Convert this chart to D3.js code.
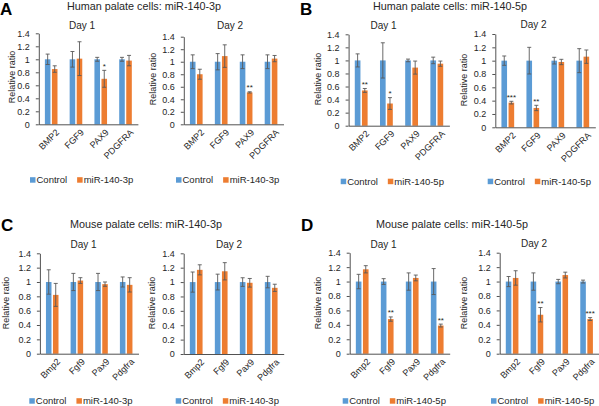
<!DOCTYPE html>
<html><head><meta charset="utf-8">
<script src="https://cdn.jsdelivr.net/npm/d3@7"></script>
<style>
html,body{margin:0;padding:0;background:#fff;}
svg{display:block;font-family:"Liberation Sans",Arial,sans-serif;}
</style></head>
<body>
<svg id="chart" width="599" height="406"></svg>
<script>
// ---------------- DATA ----------------
const humanGenes = ["BMP2", "FGF9", "PAX9", "PDGFRA"];
const mouseGenes = ["Bmp2", "Fgf9", "Pax9", "Pdgfra"];
const yTicks = [0, 0.2, 0.4, 0.6, 0.8, 1, 1.2, 1.4];
const yTickLabels = ["0", "0.2", "0.4", "0.6", "0.8", "1", "1.2", "1.4"];
const seriesNames = ["Control"];
const panelTitles = ["Human palate cells: miR-140-3p", "Human palate cells: miR-140-5p",
                     "Mouse palate cells: miR-140-3p", "Mouse palate cells: miR-140-5p"];
const panelLetters = ["A", "B", "C", "D"];
const dayLabels = ["Day 1", "Day 2"];
const mirNames = ["miR-140-3p", "miR-140-5p", "miR-140-3p", "miR-140-5p"];

// Panel A
const a1Control = [1, 1, 1, 1];
const a1ControlErr = [0.08, 0.12, 0.03, 0.03];
const a1Mir = [0.85, 1.01, 0.70, 0.98];
const a1MirErr = [0.05, 0.26, 0.13, 0.08];
const a1Stars = ["", "", "*", ""];
const a2Control = [1, 1, 1, 1];
const a2ControlErr = [0.11, 0.13, 0.11, 0.11];
const a2Mir = [0.80, 1.09, 0.51, 1.05];
const a2MirErr = [0.08, 0.18, 0.01, 0.05];
const a2Stars = ["", "", "**", ""];
// Panel B
const b1Control = [1, 1, 1, 1];
const b1ControlErr = [0.10, 0.27, 0.02, 0.05];
const b1Mir = [0.54, 0.34, 0.89, 0.95];
const b1MirErr = [0.03, 0.09, 0.10, 0.04];
const b1Stars = ["**", "*", "", ""];
const b2Control = [1, 1, 1, 1];
const b2ControlErr = [0.07, 0.20, 0.05, 0.18];
const b2Mir = [0.37, 0.29, 0.98, 1.06];
const b2MirErr = [0.02, 0.04, 0.04, 0.10];
const b2Stars = ["***", "**", "", ""];
// Panel C
const c1Control = [1, 1, 1, 1];
const c1ControlErr = [0.17, 0.12, 0.12, 0.07];
const c1Mir = [0.82, 1.02, 0.97, 0.96];
const c1MirErr = [0.16, 0.04, 0.03, 0.10];
const c1Stars = ["", "", "", ""];
const c2Control = [1, 1, 1, 1];
const c2ControlErr = [0.14, 0.11, 0.06, 0.08];
const c2Mir = [1.17, 1.15, 0.99, 0.92];
const c2MirErr = [0.07, 0.12, 0.06, 0.05];
const c2Stars = ["", "", "", ""];
// Panel D
const d1Control = [1, 1, 1, 1];
const d1ControlErr = [0.10, 0.04, 0.12, 0.18];
const d1Mir = [1.17, 0.48, 1.05, 0.39];
const d1MirErr = [0.05, 0.03, 0.04, 0.02];
const d1Stars = ["", "**", "", "**"];
const d2Control = [1, 1, 1, 1];
const d2ControlErr = [0.07, 0.12, 0.03, 0.02];
const d2Mir = [1.05, 0.54, 1.09, 0.48];
const d2MirErr = [0.10, 0.10, 0.04, 0.02];
const d2Stars = ["", "**", "", "***"];

// ---------------- LAYOUT ----------------
const COLORS = {control: "#5B9BD5", mir: "#ED7D31", err: "#595959", axis: "#262626", text: "#262626"};

const panels = [
  {letter: 0, lx: 0, ly: 15, tx: 144, ty: 10},
  {letter: 1, lx: 300, ly: 15, tx: 450, ty: 10},
  {letter: 2, lx: 1, ly: 231, tx: 146, ty: 228},
  {letter: 3, lx: 301, ly: 231, tx: 452, ty: 228}
];

const subcharts = [
  {panel: 0, day: 0, genes: humanGenes, c: a1Control, ce: a1ControlErr, m: a1Mir, me: a1MirErr, s: a1Stars,
   L: 38.8, R: 137.9, T: 33.3, B: 124.3, dayX: 82, dayY: 28.5, ylx: 11.5, yly: 77, legX: 30, legY: 180},
  {panel: 0, day: 1, genes: humanGenes, c: a2Control, ce: a2ControlErr, m: a2Mir, me: a2MirErr, s: a2Stars,
   L: 183.8, R: 283.5, T: 36.7, B: 124.3, dayX: 230, dayY: 28.5, ylx: 152.5, yly: 79, legX: 176, legY: 180},
  {panel: 1, day: 0, genes: humanGenes, c: b1Control, ce: b1ControlErr, m: b1Mir, me: b1MirErr, s: b1Stars,
   L: 348.6, R: 449.4, T: 34.3, B: 125.7, dayX: 383.5, dayY: 28.5, ylx: 317.5, yly: 79, legX: 340.7, legY: 181.5},
  {panel: 1, day: 1, genes: humanGenes, c: b2Control, ce: b2ControlErr, m: b2Mir, me: b2MirErr, s: b2Stars,
   L: 495.3, R: 595.3, T: 34, B: 127.3, dayX: 533.5, dayY: 27.5, ylx: 464, yly: 80, legX: 487.7, legY: 181.5},
  {panel: 2, day: 0, genes: mouseGenes, c: c1Control, ce: c1ControlErr, m: c1Mir, me: c1MirErr, s: c1Stars,
   L: 39.9, R: 138.5, T: 253.3, B: 353.7, dayX: 83.5, dayY: 247.5, ylx: 6, yly: 303, legX: 29.3, legY: 401},
  {panel: 2, day: 1, genes: mouseGenes, c: c2Control, ce: c2ControlErr, m: c2Mir, me: c2MirErr, s: c2Stars,
   L: 183.7, R: 283.7, T: 253.3, B: 354, dayX: 229, dayY: 247.5, ylx: 152, yly: 303, legX: 175.7, legY: 401},
  {panel: 3, day: 0, genes: mouseGenes, c: d1Control, ce: d1ControlErr, m: d1Mir, me: d1MirErr, s: d1Stars,
   L: 349.7, R: 449.7, T: 252.7, B: 353.7, dayX: 383.5, dayY: 247.5, ylx: 317.5, yly: 303, legX: 342.7, legY: 401},
  {panel: 3, day: 1, genes: mouseGenes, c: d2Control, ce: d2ControlErr, m: d2Mir, me: d2MirErr, s: d2Stars,
   L: 499.7, R: 599, T: 252.7, B: 353.7, dayX: 534, dayY: 247, ylx: 464, yly: 303, legX: 491, legY: 401}
];

const svg = d3.select("#chart");

// Panel letters and titles
panels.forEach((p, i) => {
  svg.append("text").attr("x", p.lx).attr("y", p.ly)
    .attr("font-size", 17).attr("font-weight", "bold").attr("fill", "#000")
    .text(panelLetters[p.letter]);
  svg.append("text").attr("x", p.tx).attr("y", p.ty).attr("text-anchor", "middle")
    .attr("font-size", 10.8).attr("fill", COLORS.text).text(panelTitles[i]);
});

subcharts.forEach(sc => {
  const g = svg.append("g");
  const x = d3.scaleBand().domain(sc.genes).range([sc.L, sc.R]).paddingInner(0).paddingOuter(0);
  const bw = x.bandwidth();
  const inner = d3.scaleBand().domain(["control", "mir"])
    .range([bw * 0.2455, bw * 0.7545]).paddingInner(0.21);
  const y = d3.scaleLinear().domain([0, 1.4]).range([sc.B, sc.T]);

  // y axis
  const yAxis = d3.axisLeft(y).tickValues(yTicks)
    .tickFormat((d, i) => yTickLabels[i]).tickSize(3).tickPadding(6).tickSizeOuter(0);
  const ya = g.append("g").attr("transform", `translate(${sc.L},0)`).call(yAxis);
  ya.selectAll("path,line").attr("stroke", COLORS.axis).attr("stroke-width", 0.8);
  ya.selectAll("text").attr("font-size", 9).attr("fill", COLORS.text)
    .attr("font-family", '"Liberation Sans",Arial,sans-serif');

  // bars
  const rows = sc.genes.map((gname, i) => ({gene: gname, i}));
  const series = [
    {key: "control", vals: sc.c, errs: sc.ce, color: COLORS.control},
    {key: "mir", vals: sc.m, errs: sc.me, color: COLORS.mir}
  ];
  series.forEach(se => {
    g.selectAll(null).data(rows).enter().append("rect")
      .attr("x", d => x(d.gene) + inner(se.key))
      .attr("width", inner.bandwidth())
      .attr("y", d => y(se.vals[d.i]))
      .attr("height", d => y(0) - y(se.vals[d.i]))
      .attr("fill", se.color);
    // error bars
    rows.forEach(d => {
      const cx = x(d.gene) + inner(se.key) + inner.bandwidth() / 2;
      const v = se.vals[d.i], e = se.errs[d.i];
      const y1 = y(v + e), y2 = y(v - e);
      g.append("line").attr("x1", cx).attr("x2", cx).attr("y1", y1).attr("y2", y2)
        .attr("stroke", COLORS.err).attr("stroke-width", 0.9);
      [y1, y2].forEach(yy => g.append("line").attr("x1", cx - 2).attr("x2", cx + 2)
        .attr("y1", yy).attr("y2", yy).attr("stroke", COLORS.err).attr("stroke-width", 0.9));
    });
  });

  // significance stars
  g.selectAll(null).data(rows.filter(d => sc.s[d.i] !== "")).enter().append("text")
    .attr("x", d => x(d.gene) + inner("mir") + inner.bandwidth() / 2)
    .attr("y", d => y(sc.m[d.i] + sc.me[d.i]) - 1.5)
    .attr("text-anchor", "middle").attr("font-size", 8).attr("fill", COLORS.text)
    .text(d => sc.s[d.i]);

  // x axis
  const xAxis = d3.axisBottom(x).tickSize(0).tickSizeOuter(0).tickFormat("");
  const xa = g.append("g").attr("transform", `translate(0,${sc.B})`).call(xAxis);
  xa.selectAll("path").attr("stroke", COLORS.axis).attr("stroke-width", 0.8);
  g.selectAll(null).data(rows).enter().append("text")
    .attr("transform", d => `translate(${x(d.gene) + bw / 2 + 4},${sc.B + 4}) rotate(-45)`)
    .attr("text-anchor", "end").attr("dy", "0.72em")
    .attr("font-size", 9).attr("fill", COLORS.text)
    .text(d => d.gene);

  // y label
  g.append("text").attr("transform", `translate(${sc.ylx},${sc.yly}) rotate(-90)`)
    .attr("text-anchor", "middle").attr("dy", "0.35em")
    .attr("font-size", 9).attr("fill", COLORS.text).text("Relative ratio");

  // day label
  g.append("text").attr("x", sc.dayX).attr("y", sc.dayY).attr("text-anchor", "middle")
    .attr("font-size", 10).attr("fill", COLORS.text).text(dayLabels[sc.day]);

  // legend
  const legItems = [
    {name: seriesNames[0], color: COLORS.control},
    {name: mirNames[sc.panel], color: COLORS.mir}
  ];
  let lx = sc.legX;
  legItems.forEach(it => {
    g.append("rect").attr("x", lx).attr("y", sc.legY - 2.8).attr("width", 5.5).attr("height", 5.5)
      .attr("fill", it.color);
    const t = g.append("text").attr("x", lx + 6.5).attr("y", sc.legY).attr("dy", "0.35em")
      .attr("font-size", 9.5).attr("fill", COLORS.text).text(it.name);
    lx += 6.5 + t.node().getComputedTextLength() + 10;
  });
});
</script>
</body></html>
